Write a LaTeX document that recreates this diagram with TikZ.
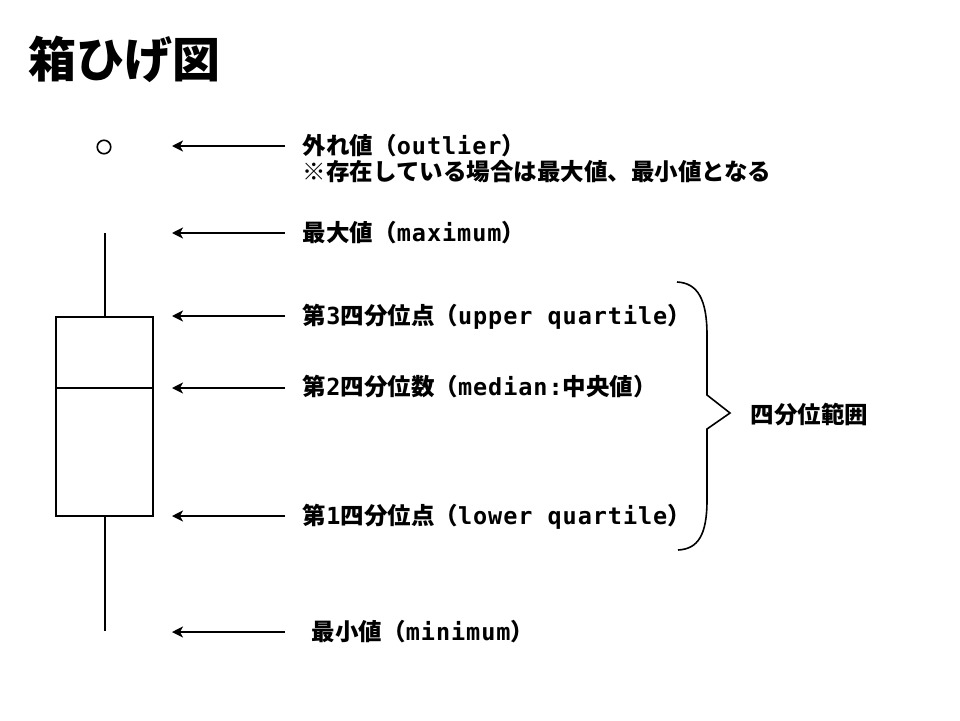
\documentclass[tikz,border=0pt]{standalone}
\usepackage{fontspec}
\usetikzlibrary{arrows.meta}
\newfontfamily\jpf{Noto Sans CJK JP}
\newfontfamily\mnf{DejaVu Sans Mono}[LetterSpace=4]
\newcommand\mn[1]{{\mnf\bfseries #1}}
\tikzset{
  lbl/.style={anchor=base west, inner sep=0pt, font=\jpf\bfseries\fontsize{23.5}{26}\selectfont},
  ttl/.style={anchor=base west, inner sep=0pt, font=\jpf\bfseries\fontsize{48}{52}\selectfont},
  arr/.style={-{Stealth[length=11pt,width=11pt,inset=3pt]}},
  plotline/.style={line width=1.8pt},
}
\begin{document}
\begin{tikzpicture}[x=1pt,y=-1pt,line width=1.8pt]
\useasboundingbox (0,0) rectangle (960,720);
% title
\node[ttl] (title) at (28,77) {箱ひげ図};
% box plot
\node[circle,draw,line width=1.6pt,minimum size=13.5pt,inner sep=0pt] (out) at (104,147) {};
\coordinate (wtop) at (105,233);
\coordinate (q3) at (105,317);
\coordinate (q1) at (105,516);
\coordinate (wbot) at (105,631);
\draw[plotline] (56,317) rectangle (153,516);
\draw[plotline] (56,388) -- (153,388);
\draw[plotline] (wtop) -- (q3);
\draw[plotline] (q1) -- (wbot);
% arrows
\foreach \n/\yy in {1/146,2/233,3/316,4/388,5/516,6/632}{
  \coordinate (s\n) at (285,\yy);
  \coordinate (e\n) at (172,\yy);
  \draw[arr] (s\n) -- (e\n);
}
% labels
\node[lbl] (l1) at (302,154.5) {外れ値（\mn{outlier}）};
\node[lbl] (l1b) at (302,180.5) {※存在している場合は最大値、最小値となる};
\node[lbl] (l2) at (302,241.5) {最大値（\mn{maximum}）};
\node[lbl] (l3) at (302,324.5) {第\mn{3}四分位点（\mn{upper quartile}）};
\node[lbl] (l4) at (302,395.5) {第\mn{2}四分位数（\mn{median:}中央値）};
\node[lbl] (l5) at (302,524.5) {第\mn{1}四分位点（\mn{lower quartile}）};
\node[lbl] (l6) at (311,640.5) {最小値（\mn{minimum}）};
% brace
\draw[line width=1.6pt] (677,282) .. controls (698,283) and (707,300) .. (707,335)
  -- (707,395) -- (730,413) -- (707,429) -- (707,500)
  .. controls (707,535) and (698,549) .. (678,550);
\node[lbl] (iqr) at (750,423.5) {四分位範囲};
\end{tikzpicture}
\end{document}
